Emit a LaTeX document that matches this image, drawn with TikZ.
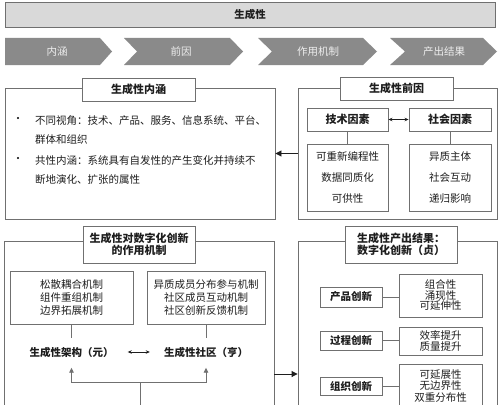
\documentclass[tikz,border=0pt]{standalone}
\usepackage{fontspec}
\setmainfont{Noto Sans CJK SC}
\usetikzlibrary{arrows.meta,calc}
\definecolor{lineC}{HTML}{707070}
\definecolor{txtC}{HTML}{1E1E1E}
\definecolor{bannerC}{HTML}{D9D9D9}
\definecolor{chevC}{HTML}{8A8A8A}
\definecolor{chevT}{HTML}{EEEEEE}
\begin{document}
\begin{tikzpicture}[x=1pt,y=-1pt,
  frame/.style={draw=lineC, line width=0.9pt, fill=white, inner sep=0pt, text=txtC, align=center},
  ttl/.style={frame, font=\fontsize{11}{13}\selectfont\bfseries},
  lab/.style={frame, font=\fontsize{10.5}{12}\selectfont\bfseries},
  body/.style={text=txtC, inner sep=0pt, font=\fontsize{10.5}{12}\selectfont},
  chevtxt/.style={text=chevT, inner sep=0pt, font=\fontsize{10.5}{12}\selectfont},
  conn/.style={draw=lineC, line width=0.9pt},
  arr/.style={draw=txtC, line width=0.9pt, -{Triangle[length=6pt,width=6pt]}},
  dbl/.style={draw=txtC, line width=0.8pt, {Stealth[length=4pt,width=3.5pt]}-{Stealth[length=4pt,width=3.5pt]}}
]
\useasboundingbox (0,0) rectangle (500,404);
\clip (0,0) rectangle (500,404);
\fill[white] (0,0) rectangle (500,404);

% banner
\node[frame, fill=bannerC, minimum width=490pt, minimum height=25pt, font=\fontsize{10.5}{12}\selectfont\bfseries] (banner) at (250,14.5) {生成性};

% chevrons
\fill[chevC] (5,38) -- (100,38) -- (112,51.5) -- (100,65) -- (5,65) -- cycle;
\fill[chevC] (124,38) -- (230,38) -- (243,51.5) -- (230,65) -- (124,65) -- (137,51.5) -- cycle;
\fill[chevC] (258,38) -- (363,38) -- (377,51.5) -- (363,65) -- (258,65) -- (272,51.5) -- cycle;
\fill[chevC] (390,38) -- (483,38) -- (497,51.5) -- (483,65) -- (390,65) -- (405,51.5) -- cycle;
\node[chevtxt] (c1) at (57,51.5) {内涵};
\node[chevtxt] (c2) at (181,51.5) {前因};
\node[chevtxt] (c3) at (318,51.5) {作用机制};
\node[chevtxt] (c4) at (444,51.5) {产出结果};

% box 1: 内涵
\node[frame, minimum width=270pt, minimum height=131pt] (nei) at (140,153.5) {};
\node[ttl, minimum width=113pt, minimum height=23pt] (neiT) at (138.5,89.5) {生成性内涵};
\node[body] (d1) at (18,120) {•};
\node[body, anchor=west] (n1) at (35,120) {不同视角：技术、产品、服务、信息系统、平台、};
\node[body, anchor=west] (n2) at (35,140) {群体和组织};
\node[body] (d2) at (18,160) {•};
\node[body, anchor=west] (n3) at (35,160) {共性内涵：系统具有自发性的产生变化并持续不};
\node[body, anchor=west] (n4) at (35,180) {断地演化、扩张的属性};

% box 2: 前因
\node[frame, minimum width=199pt, minimum height=131pt] (qian) at (397.5,153.5) {};
\node[ttl, minimum width=113pt, minimum height=23pt] (qianT) at (396.5,88.5) {生成性前因};
\node[ttl, minimum width=81pt, minimum height=23pt] (tech) at (347.5,119.5) {技术因素};
\node[ttl, minimum width=82pt, minimum height=23pt] (soc) at (450,119.5) {社会因素};
\node[frame, minimum width=81pt, minimum height=67pt, font=\fontsize{10.5}{21}\selectfont] (techL) at (347.5,177.5) {可重新编程性\\数据同质化\\可供性};
\node[frame, minimum width=82pt, minimum height=67pt, font=\fontsize{10.5}{21}\selectfont] (socL) at (450,177.5) {异质主体\\社会互动\\递归影响};
\draw[conn] (tech.south) -- (techL.north);
\draw[conn] (soc.south) -- (socL.north);
\draw[dbl] (tech.east) -- (soc.west);
\draw[arr] (qian.west) -- (nei.east);

% box 3: 作用机制
\node[frame, minimum width=270pt, minimum height=266pt] (zuo) at (139,374) {};
\node[ttl, minimum width=112pt, minimum height=37pt, font=\fontsize{11}{12.5}\selectfont\bfseries] (zuoT) at (139,244.5) {生成性对数字化创新\\的作用机制};
\node[frame, minimum width=123pt, minimum height=53pt, font=\fontsize{10.5}{12.8}\selectfont] (mL) at (71.5,297.5) {松散耦合机制\\组件重组机制\\边界拓展机制};
\node[frame, minimum width=118pt, minimum height=53pt, font=\fontsize{10.5}{12.8}\selectfont] (mR) at (206,297.5) {异质成员分布参与机制\\社区成员互动机制\\社区创新反馈机制};
\node[body, font=\fontsize{10.5}{12}\selectfont\bfseries, minimum height=27pt] (jg) at (71.5,352) {生成性架构（元）};
\node[body, font=\fontsize{10.5}{12}\selectfont\bfseries, minimum height=27pt] (sq) at (206,352) {生成性社区（亨）};
\draw[conn] (mL.south) -- (jg.north);
\draw[conn] (mR.south) -- (sq.north);
\draw[dbl] ([xshift=14pt]jg.east) -- ([xshift=-14pt]sq.west);
\coordinate (split) at (140,382);
\coordinate (bot) at (140,410);
\draw[conn] (bot) -- (split);
\draw[conn, -{Triangle[length=5pt,width=4.5pt]}] (split) -| ([yshift=-2pt]jg.south);
\draw[conn, -{Triangle[length=5pt,width=4.5pt]}] (split) -| ([yshift=-2pt]sq.south);

% box 4: 产出结果
\node[frame, minimum width=199pt, minimum height=266pt] (chan) at (397.5,374) {};
\node[ttl, minimum width=112pt, minimum height=37pt, font=\fontsize{11}{12.5}\selectfont\bfseries] (chanT) at (401,244.5) {生成性产出结果：\\数字化创新（贞）};
\draw[arr] (zuo.east) -- (chan.west);

\node[lab, minimum width=62pt, minimum height=20pt] (cp) at (351,297) {产品创新};
\node[frame, minimum width=83pt, minimum height=43pt, font=\fontsize{10.5}{10.5}\selectfont] (cpR) at (440.5,295.5) {组合性\\涌现性\\可延伸性};
\node[lab, minimum width=62pt, minimum height=19pt] (gc) at (351,340.5) {过程创新};
\node[frame, minimum width=83pt, minimum height=28pt, font=\fontsize{10.5}{11}\selectfont] (gcR) at (440.5,341) {效率提升\\质量提升};
\node[lab, minimum width=62pt, minimum height=18pt] (zz) at (351,386) {组织创新};
\node[frame, minimum width=83pt, minimum height=44pt, font=\fontsize{10.5}{11.5}\selectfont] (zzR) at (440.5,386) {可延展性\\无边界性\\双重分布性};
\draw[conn] (cp.east) -- (cp.east -| cpR.west);
\draw[conn] (gc.east) -- (gc.east -| gcR.west);
\draw[conn] (zz.east) -- (zz.east -| zzR.west);
\end{tikzpicture}
\end{document}
